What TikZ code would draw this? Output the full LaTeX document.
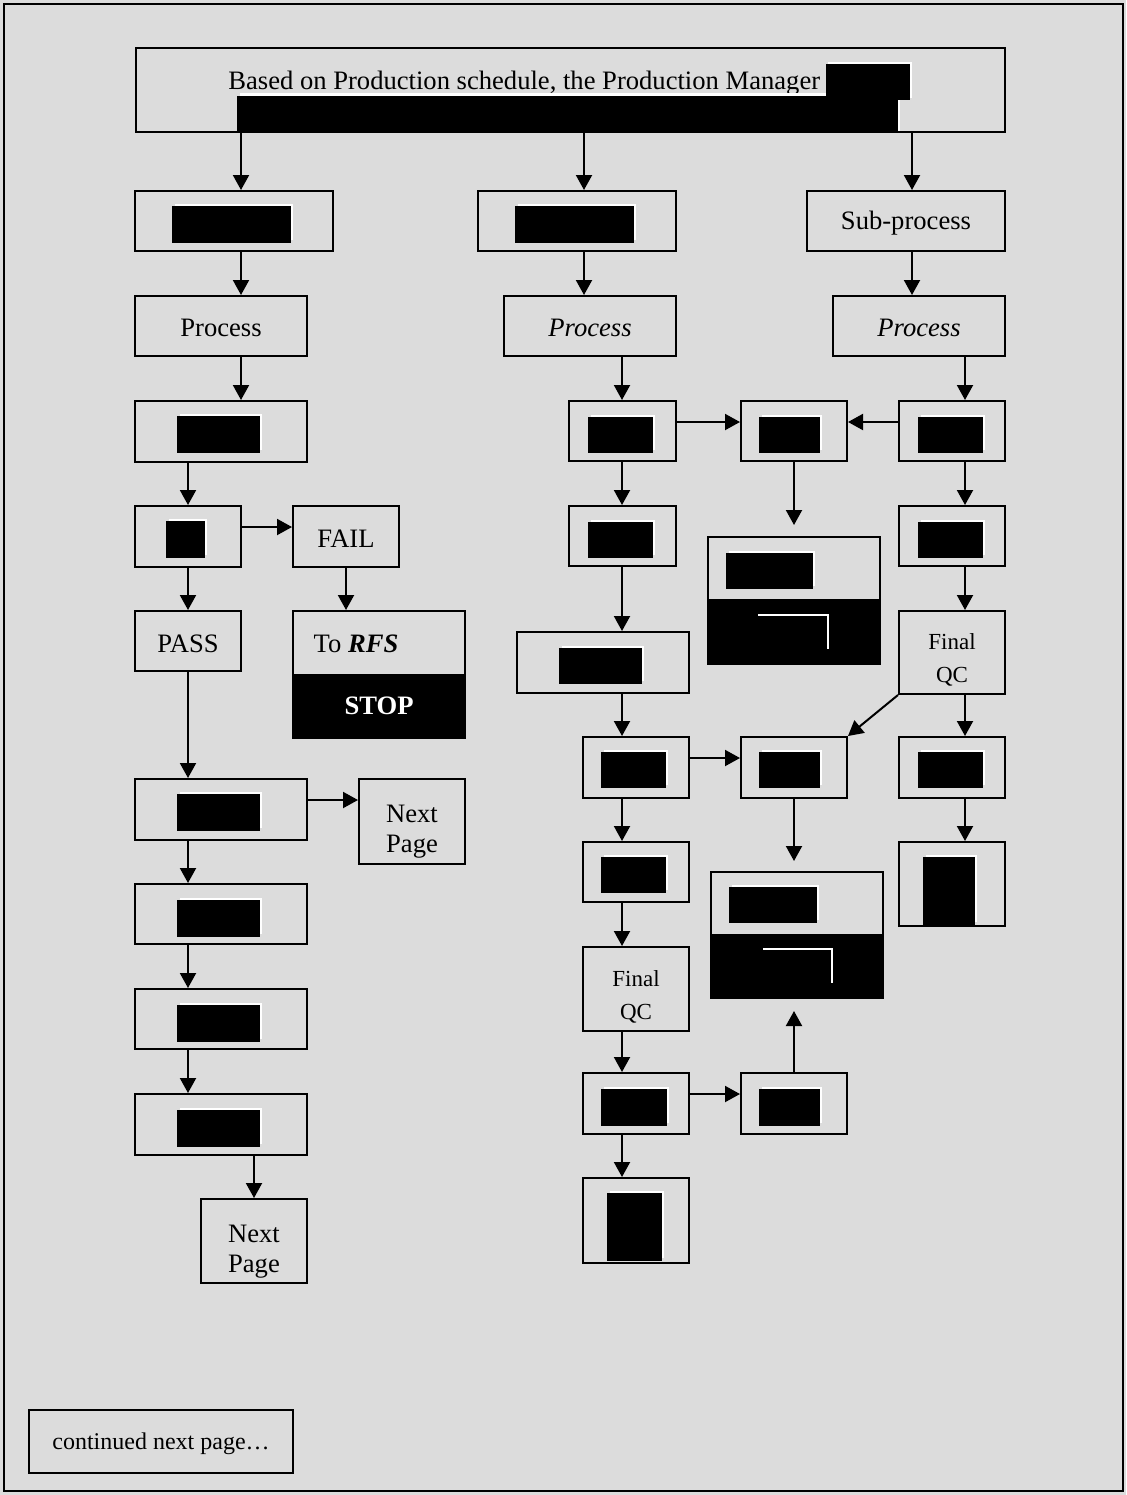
\documentclass[tikz,border=0pt]{standalone}
\usepackage{fontspec}
\setmainfont{Liberation Serif}
\usetikzlibrary{arrows.meta}
\definecolor{bg}{RGB}{220,220,220}
\tikzset{
 box/.style={draw=black, fill=bg, line width=1pt, inner sep=0pt},
 txt/.style={inner sep=0pt, align=center, font=\fontsize{13.3}{15}\selectfont, yshift=-1.2pt},
 two/.style={yshift=-4pt},
 arr/.style={line width=1pt, -{Triangle[length=7.5pt,width=8pt]}},
 smallfont/.style={font=\fontsize{11.5}{16.5}\selectfont, yshift=-2.5pt},
}
\newcommand\bx[7][]{\node[box,minimum width={(#5-#3)*0.5pt},minimum height={(#6-#4)*0.5pt}] (#2) at ({(#3+#5)/2},{(#4+#6)/2}) {};
 \node[txt,#1] (#2-t) at (#2.center) {#7};}
\newcommand\rd[4]{\fill[white] ({#1+3},{#2-2}) rectangle ({#3+2},{#4-3}); \fill[black] (#1,#2) rectangle (#3,#4);}
\begin{document}
\begin{tikzpicture}[x=0.5pt,y=-0.5pt]
\useasboundingbox (0,0) rectangle (1126,1495);
\fill[bg] (0,0) rectangle (1126,1495);
\draw[line width=1pt] (4,4) rectangle (1123,1491);

% helper coordinates
\coordinate (x241) at (241,0);
\coordinate (x584) at (584,0);
\coordinate (x912) at (912,0);
\coordinate (x622) at (622,0);
\coordinate (x965) at (965,0);
\coordinate (x188) at (188,0);
\coordinate (x346) at (346,0);
\coordinate (x794) at (794,0);
\coordinate (x254) at (254,0);
\coordinate (y527) at (0,527);
\coordinate (y422) at (0,422);
\coordinate (y800) at (0,800);
\coordinate (y758) at (0,758);
\coordinate (y1094) at (0,1094);

% top box
\node[box,minimum width=434.5pt,minimum height=42pt] (top) at (570.5,90) {};
\node[anchor=base west, inner sep=0pt, font=\fontsize{13.3}{15}\selectfont] (tt) at (228,89) {Based on Production schedule, the Production Manager};
\fill[white] (240,93) rectangle (900,131);
\fill[white] (828,62) rectangle (912,98);
\fill[black] (237,96) rectangle (898,132);
\fill[black] (826,64) rectangle (910,100);

% row 1
\bx{L1}{135}{191}{333}{251}{} \rd{172}{206}{291}{243}
\bx{M1}{478}{191}{676}{251}{} \rd{515}{206}{634}{243}
\bx{R1}{807}{191}{1005}{251}{Sub-process}
% row 2
\bx{L2}{135}{296}{307}{356}{Process}
\bx{M2}{504}{296}{676}{356}{\textit{Process}}
\bx{R2}{833}{296}{1005}{356}{\textit{Process}}
% row 3
\bx{L3}{135}{401}{307}{462}{} \rd{177}{416}{260}{453}
\bx{M3a}{569}{401}{676}{461}{} \rd{588}{417}{653}{453}
\bx{M3b}{741}{401}{847}{461}{} \rd{759}{417}{820}{453}
\bx{R3}{899}{401}{1005}{461}{} \rd{918}{417}{983}{453}
% row 4
\bx{L4}{135}{506}{241}{567}{} \rd{166}{521}{205}{558}
\bx{FAIL}{293}{506}{399}{567}{FAIL}
\bx{M4a}{569}{506}{676}{566}{} \rd{588}{522}{653}{558}
\bx{R4}{899}{506}{1005}{566}{} \rd{918}{522}{983}{558}
\bx{dbl1}{708}{537}{880}{664}{}
\fill[black] (708,599) rectangle (880,664);
\draw[white,line width=1pt] (758,615) -- (828,615) -- (828,649);
\rd{726}{553}{813}{589}
% row 5
\bx{PASS}{135}{611}{241}{671}{PASS}
\bx{RFS}{293}{611}{465}{738}{}
\fill[black] (293,674) rectangle (465,738);
\node[font=\fontsize{13.3}{15}\selectfont, anchor=base, inner sep=0pt] (rfst) at (356,652) {To \textbf{\textit{RFS}}};
\node[font=\fontsize{13.3}{15}\selectfont\bfseries, text=white, anchor=base, inner sep=0pt] (stop) at (379,714) {STOP};
\bx{M5}{517}{632}{689}{693}{} \rd{559}{648}{642}{684}
\bx[smallfont]{R5}{899}{611}{1005}{694}{Final\\QC}
% row 6
\bx{L6}{135}{779}{307}{840}{} \rd{177}{794}{260}{831}
\bx[two]{NP1}{359}{779}{465}{864}{Next\\Page}
\bx{M6a}{583}{737}{689}{798}{} \rd{601}{752}{666}{788}
\bx{M6b}{741}{737}{847}{798}{} \rd{759}{752}{820}{788}
\bx{R6}{899}{737}{1005}{798}{} \rd{918}{752}{983}{788}
\bx{R7}{899}{842}{1005}{926}{} \rd{923}{857}{975}{925}
\bx{M7}{583}{842}{689}{902}{} \rd{601}{857}{666}{893}
\bx{dbl2}{711}{872}{883}{998}{}
\fill[black] (711,934) rectangle (883,998);
\draw[white,line width=1pt] (763,949) -- (832,949) -- (832,983);
\rd{729}{887}{817}{923}
\bx{L7}{135}{884}{307}{944}{} \rd{177}{900}{260}{937}
\bx[smallfont]{M8}{583}{947}{689}{1031}{Final\\QC}
\bx{L8}{135}{989}{307}{1049}{} \rd{177}{1005}{260}{1042}
\bx{M9}{583}{1073}{689}{1134}{} \rd{601}{1089}{667}{1126}
\bx{M9b}{741}{1073}{847}{1134}{} \rd{759}{1089}{820}{1126}
\bx{L9}{135}{1094}{307}{1155}{} \rd{177}{1110}{260}{1147}
\bx{M10}{583}{1178}{689}{1263}{} \rd{607}{1193}{662}{1261}
\bx[two]{NP2}{201}{1199}{307}{1283}{Next\\Page}
\bx[font=\fontsize{12}{14}\selectfont]{cont}{29}{1410}{293}{1473}{continued next page…}

% vertical connectors
\draw[arr] (top.south -| x241) -- (L1.north -| x241);
\draw[arr] (top.south -| x584) -- (M1.north -| x584);
\draw[arr] (top.south -| x912) -- (R1.north -| x912);
\draw[arr] (L1.south -| x241) -- (L2.north -| x241);
\draw[arr] (M1.south -| x584) -- (M2.north -| x584);
\draw[arr] (R1.south -| x912) -- (R2.north -| x912);
\draw[arr] (L2.south -| x241) -- (L3.north -| x241);
\draw[arr] (M2.south -| x622) -- (M3a.north -| x622);
\draw[arr] (R2.south -| x965) -- (R3.north -| x965);
\draw[arr] (L3.south -| x188) -- (L4.north -| x188);
\draw[arr] (M3a.south -| x622) -- (M4a.north -| x622);
\draw[arr] (R3.south -| x965) -- (R4.north -| x965);
\draw[arr, shorten >=5.5pt] (M3b.south -| x794) -- (dbl1.north -| x794);
\draw[arr] (L4.south -| x188) -- (PASS.north -| x188);
\draw[arr] (FAIL.south -| x346) -- (RFS.north -| x346);
\draw[arr] (M4a.south -| x622) -- (M5.north -| x622);
\draw[arr] (R4.south -| x965) -- (R5.north -| x965);
\draw[arr] (PASS.south -| x188) -- (L6.north -| x188);
\draw[arr] (M5.south -| x622) -- (M6a.north -| x622);
\draw[arr] (R5.south -| x965) -- (R6.north -| x965);
\draw[arr, shorten >=5pt] (M6b.south -| x794) -- (dbl2.north -| x794);
\draw[arr] (R6.south -| x965) -- (R7.north -| x965);
\draw[arr] (M6a.south -| x622) -- (M7.north -| x622);
\draw[arr] (L6.south -| x188) -- (L7.north -| x188);
\draw[arr] (L7.south -| x188) -- (L8.north -| x188);
\draw[arr] (L8.south -| x188) -- (L9.north -| x188);
\draw[arr] (L9.south -| x254) -- (NP2.north -| x254);
\draw[arr] (M7.south -| x622) -- (M8.north -| x622);
\draw[arr] (M8.south -| x622) -- (M9.north -| x622);
\draw[arr] (M9.south -| x622) -- (M10.north -| x622);
\draw[arr, shorten >=6pt] (M9b.north -| x794) -- (dbl2.south -| x794);

% horizontal connectors
\draw[arr] (L4.east |- y527) -- (FAIL.west |- y527);
\draw[arr] (M3a.east |- y422) -- (M3b.west |- y422);
\draw[arr] (R3.west |- y422) -- (M3b.east |- y422);
\draw[arr] (L6.east |- y800) -- (NP1.west |- y800);
\draw[arr] (M6a.east |- y758) -- (M6b.west |- y758);
\draw[arr] (M9.east |- y1094) -- (M9b.west |- y1094);
% diagonal
\draw[arr] (R5.south west) -- (M6b.north east);
\end{tikzpicture}
\end{document}
